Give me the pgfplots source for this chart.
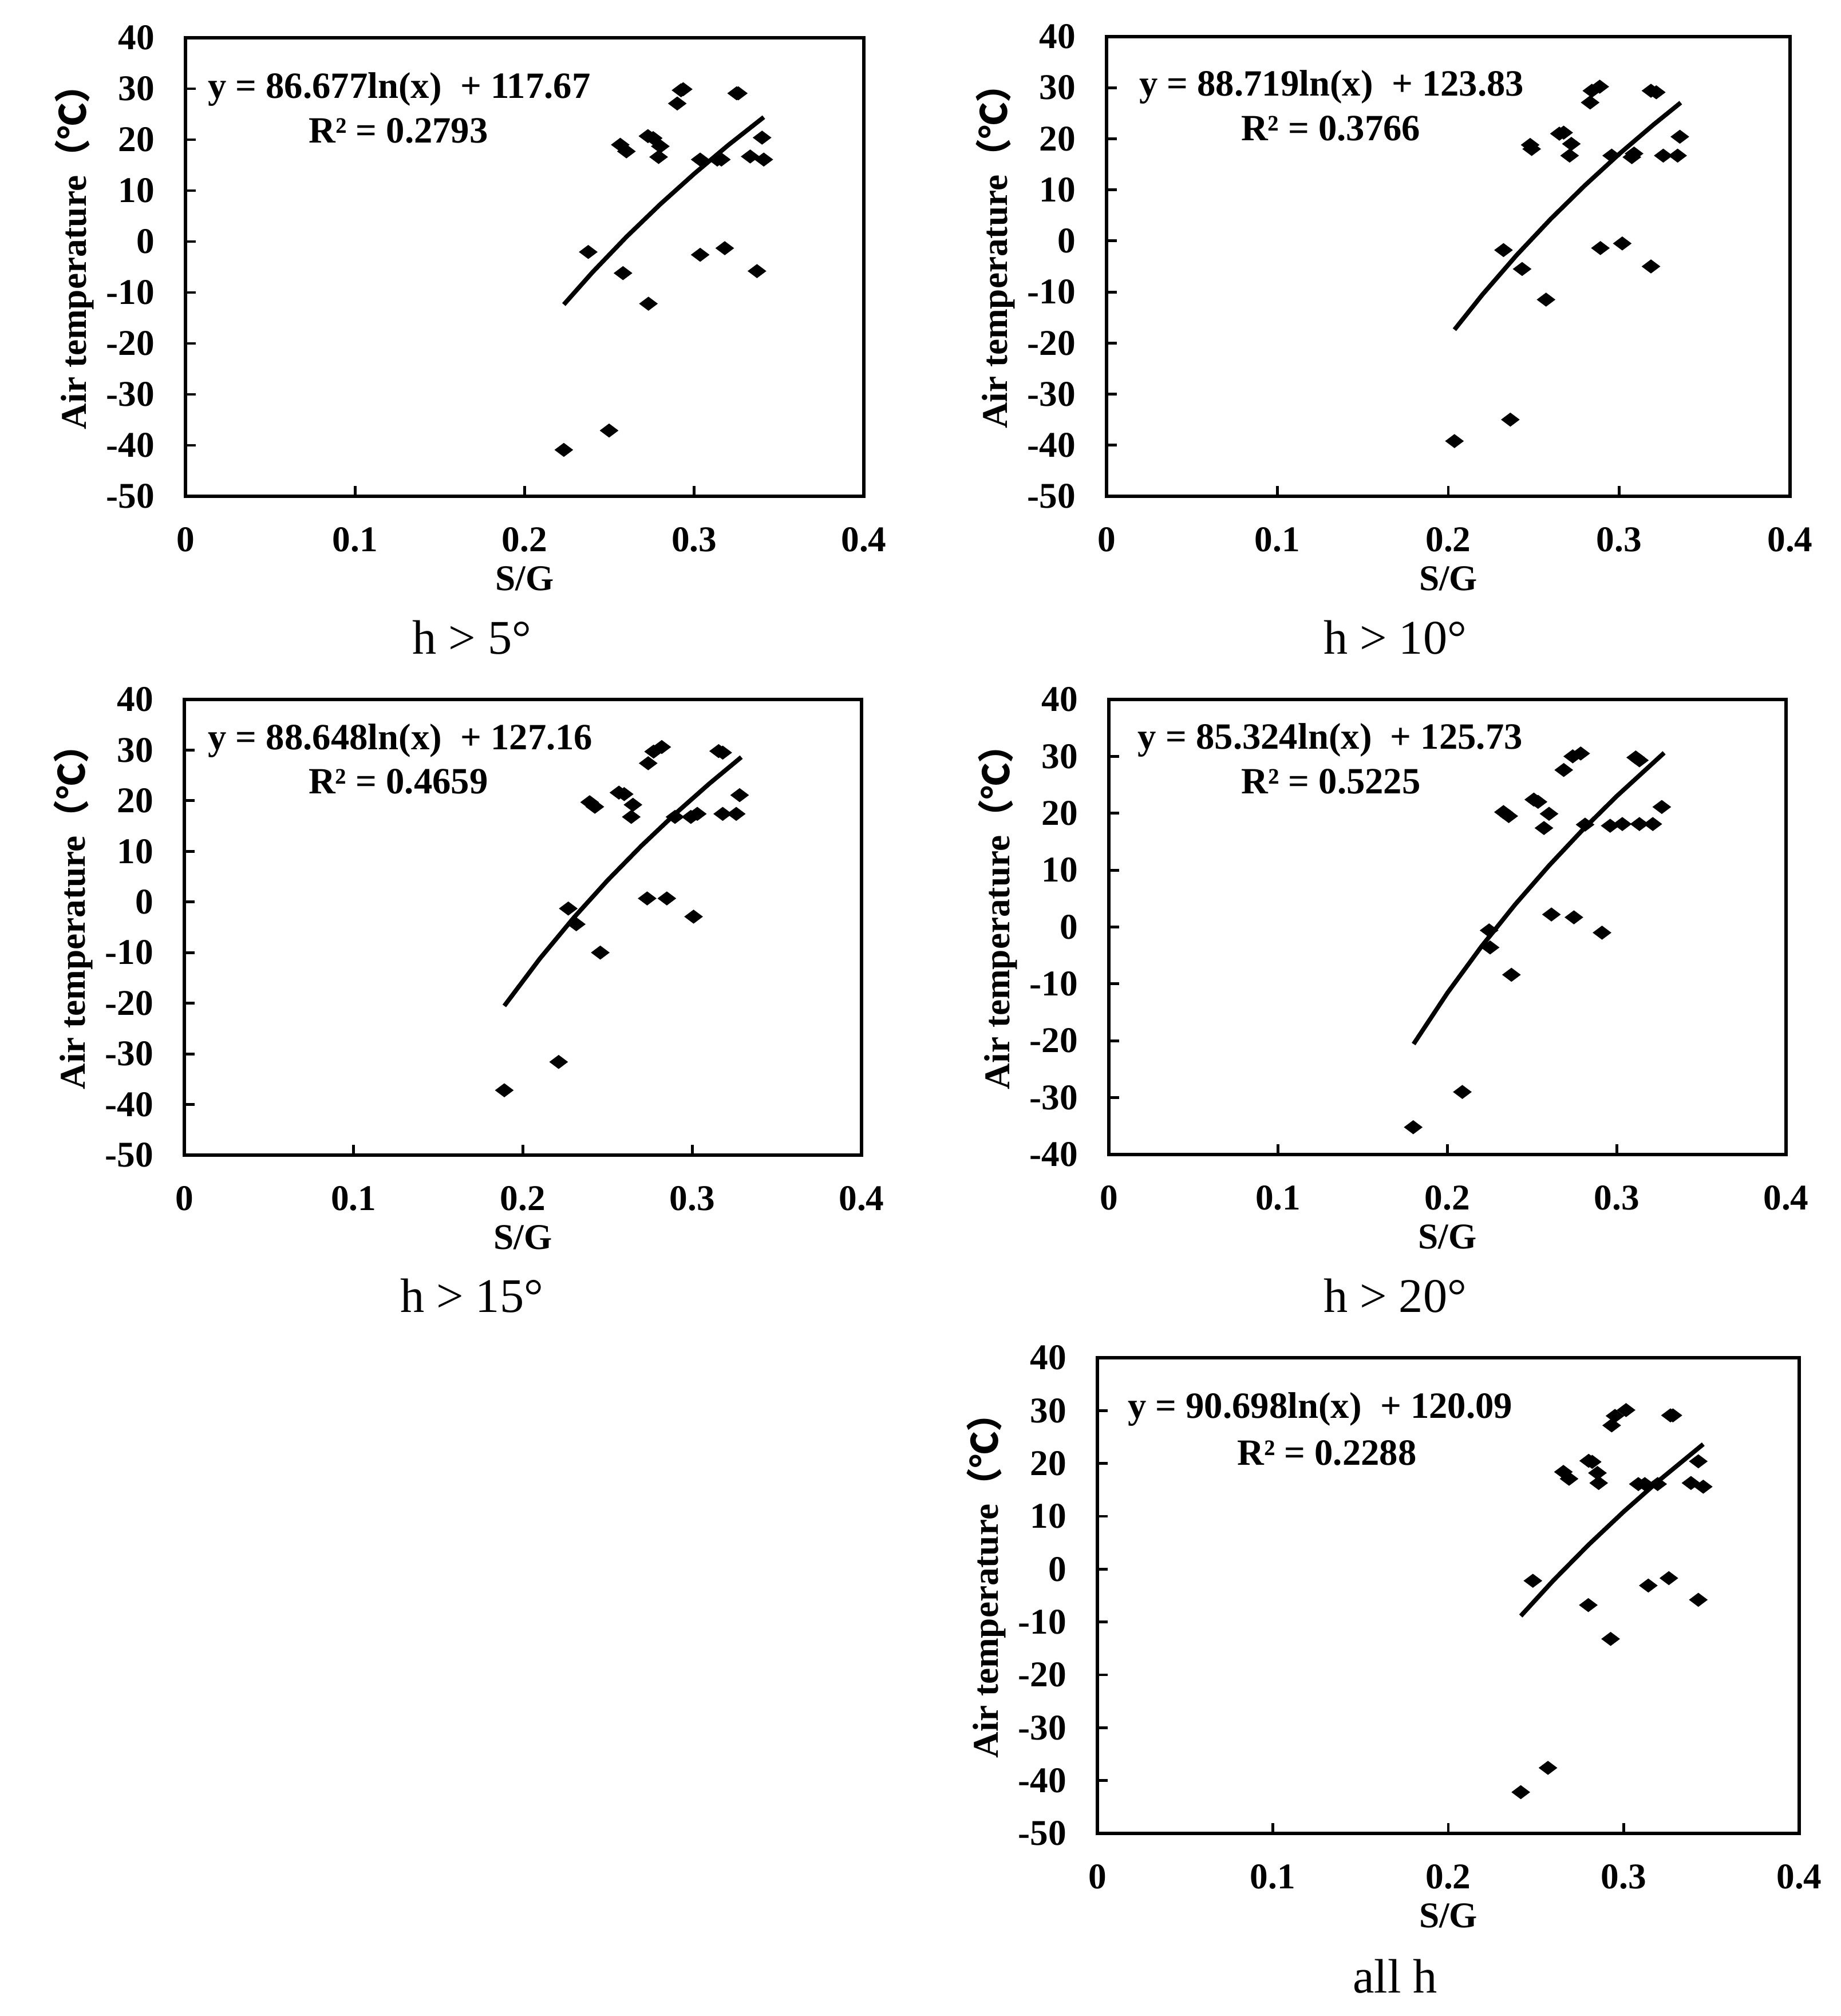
\documentclass[border=0pt]{standalone}
\usepackage{fontspec}
\setmainfont{Liberation Serif}
\newfontfamily\cjk{Noto Sans CJK SC}
\usepackage{pgfplots}
\usepackage{pgfplotstable}
\pgfplotsset{compat=1.18}

% scatter data: S/G versus air temperature, one table per panel
\pgfplotstableread{
x y
0.2375 -2.05
0.2231 -40.9
0.2498 -37.1
0.2580 -6.2
0.2730 -12.2
0.2564 19.0
0.2600 17.7
0.2727 20.7
0.2758 20.3
0.2800 18.7
0.2790 16.6
0.2900 27.1
0.2922 29.7
0.2935 29.9
0.3035 -2.6
0.3035 16.1
0.3136 16.1
0.3160 16.1
0.3180 -1.3
0.3250 29.1
0.3260 29.1
0.3330 16.7
0.3370 -5.8
0.3400 20.4
0.3410 16.1
}\dataA
\pgfplotstableread{
x y
0.2036 -39.2
0.2363 -35.0
0.2323 -1.8
0.2432 -5.5
0.2572 -11.5
0.2479 18.8
0.2488 18.0
0.2650 21.0
0.2675 21.2
0.2720 19.0
0.2710 16.7
0.2830 27.1
0.2840 29.4
0.2886 30.2
0.2890 -1.4
0.2956 16.7
0.3018 -0.5
0.3074 16.4
0.3087 17.1
0.3186 -5.0
0.3186 29.4
0.3217 29.1
0.3258 16.7
0.3342 16.7
0.3355 20.4
}\dataB
\pgfplotstableread{
x y
0.1890 -37.2
0.2211 -31.6
0.2268 -1.3
0.2315 -4.4
0.2457 -10.0
0.2394 19.7
0.2425 18.8
0.2567 21.6
0.2598 21.3
0.2650 19.2
0.2640 16.8
0.2740 27.4
0.2772 29.7
0.2820 30.6
0.2734 0.7
0.2850 0.7
0.2898 16.8
0.2992 16.8
0.3030 17.4
0.3008 -2.9
0.3156 29.8
0.3180 29.5
0.3180 17.4
0.3260 17.4
0.3280 21.1
}\dataC
\pgfplotstableread{
x y
0.1798 -35.2
0.2088 -29.0
0.2246 -0.6
0.2252 -3.6
0.2378 -8.4
0.2331 20.2
0.2362 19.5
0.2510 22.4
0.2535 22.0
0.2600 19.9
0.2570 17.4
0.2614 2.2
0.2687 27.6
0.2740 30.0
0.2787 30.5
0.2747 1.7
0.2813 18.0
0.2913 -1.0
0.2961 17.8
0.3033 18.1
0.3112 29.8
0.3134 29.3
0.3134 18.1
0.3213 18.1
0.3266 21.1
}\dataD
\pgfplotstableread{
x y
0.2413 -42.2
0.2568 -37.6
0.2482 -2.2
0.2798 -6.8
0.2925 -13.2
0.2656 18.4
0.2688 17.1
0.2800 20.5
0.2820 20.3
0.2850 18.2
0.2857 16.3
0.2931 27.2
0.2950 29.0
0.3013 30.1
0.3083 16.1
0.3120 16.1
0.3193 16.1
0.3140 -3.1
0.3257 -1.7
0.3266 29.1
0.3280 29.1
0.3383 16.3
0.3425 20.4
0.3425 -5.8
0.3453 15.6
}\dataE

% logarithmic trend lines, sampled values
\pgfplotstableread{
x y
0.2231 -12.36
0.24 -6.03
0.26 0.91
0.28 7.33
0.30 13.31
0.32 18.91
0.341 24.42
}\fitA
\pgfplotstableread{
x y
0.2036 -17.38
0.22 -10.50
0.24 -2.78
0.26 4.32
0.28 10.89
0.30 17.02
0.32 22.74
0.336 27.07
}\fitB
\pgfplotstableread{
x y
0.189 -20.53
0.21 -11.19
0.23 -3.12
0.25 4.27
0.27 11.09
0.29 17.43
0.31 23.34
0.329 28.61
}\fitC
\pgfplotstableread{
x y
0.18 -20.58
0.20 -11.59
0.22 -3.46
0.24 3.96
0.26 10.79
0.28 17.12
0.30 23.00
0.328 30.62
}\fitD
\pgfplotstableread{
x y
0.2413 -8.86
0.26 -2.09
0.28 4.63
0.30 10.89
0.32 16.75
0.3453 23.65
}\fitE

\pgfplotsset{
  panel/.style={
    scale only axis,
    xmin=0, xmax=0.4, ymax=40,
    xtick={0,0.1,0.2,0.3,0.4},
    tick pos=left,
    tick align=inside,
    major tick length=0.9mm,
    every tick/.style={black, line width=0.7pt},
    axis line style={line width=0.75pt},
    /pgf/number format/assume math mode=true,
    /pgf/number format/fixed,
    ticklabel style={font=\fontsize{9}{10}\selectfont\bfseries},
    xticklabel style={anchor=center, yshift=-3.8mm},
    yticklabel style={anchor=east, xshift=-1.45mm},
    xlabel={S/G},
    ylabel={Air temperature{\cjk（℃）}},
    label style={font=\fontsize{9}{10}\selectfont\bfseries},
    xlabel style={at={([yshift=-7.2mm]axis description cs:0.5,0)}, anchor=center},
    ylabel style={at={([xshift=-9.7mm,yshift=1.65mm]axis description cs:0,0.5)}, anchor=center},
  },
  pts/.style={only marks, mark=diamond*, mark size=0.7mm,
    mark options={rotate=90, fill=black, draw=black}},
  fit/.style={no marks, black, line width=1.1pt},
}
\newcommand{\eqfont}{\fontsize{9.2}{10}\selectfont\bfseries}
\newcommand{\capfont}{\fontsize{12}{14}\selectfont}

\begin{document}
\begin{tikzpicture}
\path[use as bounding box] (0,0) rectangle (160.8mm,176.1mm);

\begin{axis}[panel, at={(16.2mm,132.75mm)}, anchor=south west,
  width=59.25mm, height=40.05mm, ymin=-50, ytick={-50,-40,...,40}]
  \addplot[pts] table {\dataA};
  \addplot[fit] table {\fitA};
  \node[anchor=west, font=\eqfont] at (rel axis cs:0.012,0.887) {y = 86.677ln(x)\ \ + 117.67};
  \node[font=\eqfont] at (rel axis cs:0.314,0.797) {R² = 0.2793};
\end{axis}

\begin{axis}[panel, at={(96.65mm,132.75mm)}, anchor=south west,
  width=59.7mm, height=40.15mm, ymin=-50, ytick={-50,-40,...,40}]
  \addplot[pts] table {\dataB};
  \addplot[fit] table {\fitB};
  \node[anchor=west, font=\eqfont] at (rel axis cs:0.027,0.89) {y = 88.719ln(x)\ \ + 123.83};
  \node[font=\eqfont] at (rel axis cs:0.328,0.80) {R² = 0.3766};
\end{axis}

\begin{axis}[panel, at={(16.1mm,75.2mm)}, anchor=south west,
  width=59.15mm, height=39.8mm, ymin=-50, ytick={-50,-40,...,40}]
  \addplot[pts] table {\dataC};
  \addplot[fit] table {\fitC};
  \node[anchor=west, font=\eqfont] at (rel axis cs:0.014,0.91) {y = 88.648ln(x)\ \ + 127.16};
  \node[font=\eqfont] at (rel axis cs:0.316,0.82) {R² = 0.4659};
\end{axis}

\begin{axis}[panel, at={(96.85mm,75.25mm)}, anchor=south west,
  width=59.15mm, height=39.75mm, ymin=-40, ytick={-40,-30,...,40}]
  \addplot[pts] table {\dataD};
  \addplot[fit] table {\fitD};
  \node[anchor=west, font=\eqfont] at (rel axis cs:0.022,0.91) {y = 85.324ln(x)\ \ + 125.73};
  \node[font=\eqfont] at (rel axis cs:0.328,0.82) {R² = 0.5225};
\end{axis}

\begin{axis}[panel, at={(95.85mm,15.95mm)}, anchor=south west,
  width=61.3mm, height=41.55mm, ymin=-50, ytick={-50,-40,...,40}]
  \addplot[pts] table {\dataE};
  \addplot[fit] table {\fitE};
  \node[anchor=west, font=\eqfont] at (rel axis cs:0.023,0.892) {y = 90.698ln(x)\ \ + 120.09};
  \node[font=\eqfont] at (rel axis cs:0.327,0.80) {R² = 0.2288};
\end{axis}

\node[anchor=base, font=\capfont] at (41.2mm,118.95mm) {h > 5°};
\node[anchor=base, font=\capfont] at (121.85mm,118.95mm) {h > 10°};
\node[anchor=base, font=\capfont] at (41.2mm,61.45mm) {h > 15°};
\node[anchor=base, font=\capfont] at (121.85mm,61.45mm) {h > 20°};
\node[anchor=base, font=\capfont] at (121.85mm,2.05mm) {all h};
\end{tikzpicture}
\end{document}
